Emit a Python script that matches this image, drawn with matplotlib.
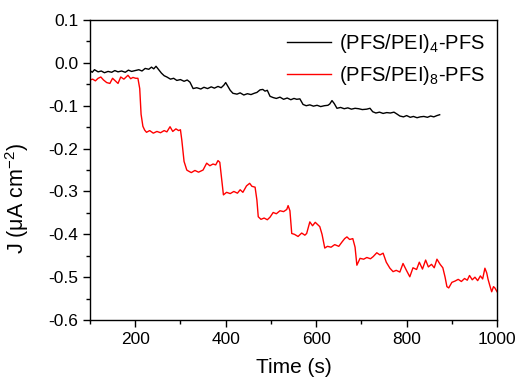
import numpy as np
import matplotlib
matplotlib.use('Agg')
import matplotlib.pyplot as plt
from matplotlib.ticker import MultipleLocator

plt.rcParams['font.family'] = ['Liberation Sans', 'DejaVu Sans']
plt.rcParams['mathtext.fontset'] = 'custom'
plt.rcParams['mathtext.rm'] = 'Liberation Sans'
plt.rcParams['mathtext.it'] = 'Liberation Sans'

# (PFS/PEI)4-PFS
black_t = [100, 105, 110, 118, 125, 132, 140, 148, 155, 162, 170, 178, 185, 192, 200,
           208, 215, 222, 230, 236, 241, 246, 252, 258, 264, 270, 278, 285, 292, 300,
           308, 315, 321, 328, 336, 345, 352, 360, 368, 375, 383, 390, 396, 400, 405,
           410, 416, 425, 432, 440, 448, 456, 463, 469, 476, 482, 487, 492, 498, 505,
           512, 520, 528, 536, 544, 551, 557, 564, 571, 578, 586, 594, 602, 610, 618,
           626, 630, 635, 640, 646, 654, 662, 670, 678, 686, 694, 702, 712, 719, 725,
           732, 740, 748, 756, 764, 772, 778, 785, 793, 800, 808, 815, 823, 830, 838,
           846, 853, 860, 867, 873]
black_J = [-0.018, -0.022, -0.016, -0.021, -0.019, -0.023, -0.020, -0.022, -0.018, -0.021, -0.019, -0.022, -0.017, -0.020, -0.018,
           -0.016, -0.019, -0.013, -0.015, -0.010, -0.014, -0.008, -0.016, -0.024, -0.030, -0.033, -0.038, -0.036, -0.041, -0.039,
           -0.043, -0.040, -0.045, -0.060, -0.058, -0.061, -0.057, -0.060, -0.056, -0.059, -0.055, -0.058, -0.052, -0.046, -0.055,
           -0.064, -0.071, -0.073, -0.070, -0.075, -0.072, -0.074, -0.071, -0.069, -0.063, -0.062, -0.066, -0.064, -0.078, -0.081,
           -0.083, -0.080, -0.085, -0.082, -0.086, -0.083, -0.085, -0.084, -0.097, -0.100, -0.098, -0.101, -0.099, -0.102, -0.100,
           -0.099, -0.096, -0.088, -0.095, -0.106, -0.104, -0.107, -0.105, -0.108, -0.106, -0.107, -0.109, -0.108, -0.106, -0.114,
           -0.117, -0.115, -0.118, -0.116, -0.117, -0.115, -0.119, -0.124, -0.126, -0.123, -0.127, -0.125, -0.128, -0.126, -0.125,
           -0.127, -0.124, -0.126, -0.123, -0.121]

# (PFS/PEI)8-PFS
red_t = [100, 106, 112, 118, 124, 130, 137, 144, 150, 156, 162, 168, 175, 184, 190,
         195, 201, 206, 210, 213, 217, 221, 225, 232, 240, 248, 256, 264, 270, 277,
         283, 290, 296, 300, 303, 308, 314, 317, 324, 332, 340, 350, 358, 365, 372,
         378, 383, 387, 391, 395, 402, 410, 418, 426, 432, 438, 446, 453, 458, 465,
         469, 472, 478, 485, 492, 498, 505, 512, 520, 528, 535, 538, 542, 546, 552,
         560, 568, 575, 579, 586, 592, 598, 604, 608, 613, 619, 625, 633, 641, 650,
         657, 663, 668, 674, 681, 686, 690, 697, 705, 712, 720, 726, 734, 741, 748,
         755, 763, 770, 777, 785, 792, 800, 807, 814, 822, 828, 835, 842, 848, 855,
         861, 867, 874, 880, 885, 889, 893, 900, 907, 914, 921, 928, 934, 939, 945,
         951, 957, 963, 968, 973, 977, 980, 984, 988, 992, 995, 1000]
red_J = [-0.040, -0.038, -0.042, -0.036, -0.033, -0.040, -0.046, -0.048, -0.036, -0.042, -0.048, -0.033, -0.038, -0.029, -0.037,
         -0.034, -0.036, -0.036, -0.060, -0.120, -0.148, -0.157, -0.162, -0.158, -0.164, -0.160, -0.163, -0.158, -0.161, -0.149,
         -0.160, -0.154, -0.158, -0.156, -0.180, -0.230, -0.250, -0.252, -0.256, -0.251, -0.255, -0.250, -0.234, -0.240, -0.236,
         -0.238, -0.228, -0.232, -0.270, -0.308, -0.302, -0.305, -0.300, -0.304, -0.296, -0.302, -0.287, -0.281, -0.288, -0.290,
         -0.320, -0.359, -0.365, -0.362, -0.366, -0.360, -0.349, -0.352, -0.345, -0.347, -0.342, -0.333, -0.345, -0.398, -0.400,
         -0.405, -0.397, -0.402, -0.398, -0.371, -0.380, -0.372, -0.378, -0.382, -0.400, -0.432, -0.428, -0.430, -0.424, -0.428,
         -0.418, -0.410, -0.406, -0.412, -0.410, -0.430, -0.472, -0.456, -0.458, -0.454, -0.457, -0.452, -0.443, -0.448, -0.444,
         -0.465, -0.479, -0.487, -0.484, -0.488, -0.468, -0.485, -0.499, -0.478, -0.482, -0.465, -0.481, -0.460, -0.476, -0.470,
         -0.478, -0.458, -0.470, -0.478, -0.500, -0.522, -0.525, -0.512, -0.509, -0.505, -0.510, -0.503, -0.507, -0.496, -0.506,
         -0.500, -0.508, -0.497, -0.504, -0.479, -0.490, -0.505, -0.520, -0.534, -0.522, -0.525, -0.534]

fig = plt.figure(figsize=(5.2, 3.77), dpi=100)
ax = fig.add_axes([0.173, 0.151, 0.783, 0.796])

ax.plot(black_t, black_J, color='black', lw=1.0, label='(PFS/PEI)$_4$-PFS')
ax.plot(red_t, red_J, color='red', lw=1.0, label='(PFS/PEI)$_8$-PFS')

ax.set_xlim(100, 1000)
ax.set_ylim(-0.6, 0.1)
ax.xaxis.set_major_locator(MultipleLocator(200))
ax.xaxis.set_minor_locator(MultipleLocator(100))
ax.yaxis.set_major_locator(MultipleLocator(0.1))
ax.yaxis.set_minor_locator(MultipleLocator(0.05))
ax.yaxis.set_major_formatter(plt.FuncFormatter(lambda v, p: '%.1f' % v))
ax.tick_params(which='major', direction='out', length=5, width=1, labelsize=12.5)
ax.tick_params(which='minor', direction='out', length=3, width=1)
for s in ax.spines.values():
    s.set_linewidth(1.0)

ax.set_xlabel('Time (s)', fontsize=15)
ax.xaxis.set_label_coords(0.5, -0.125)
ax.set_ylabel('J ($\\mu$A cm$^{-2}$)', fontsize=15.5)
ax.yaxis.set_label_coords(-0.145, 0.405)

ax.legend(loc='upper right', frameon=False, fontsize=14.5, handlelength=2.2,
          handletextpad=0.4, labelspacing=0.45, borderaxespad=0.2)

fig.savefig('out.png', dpi=100)
